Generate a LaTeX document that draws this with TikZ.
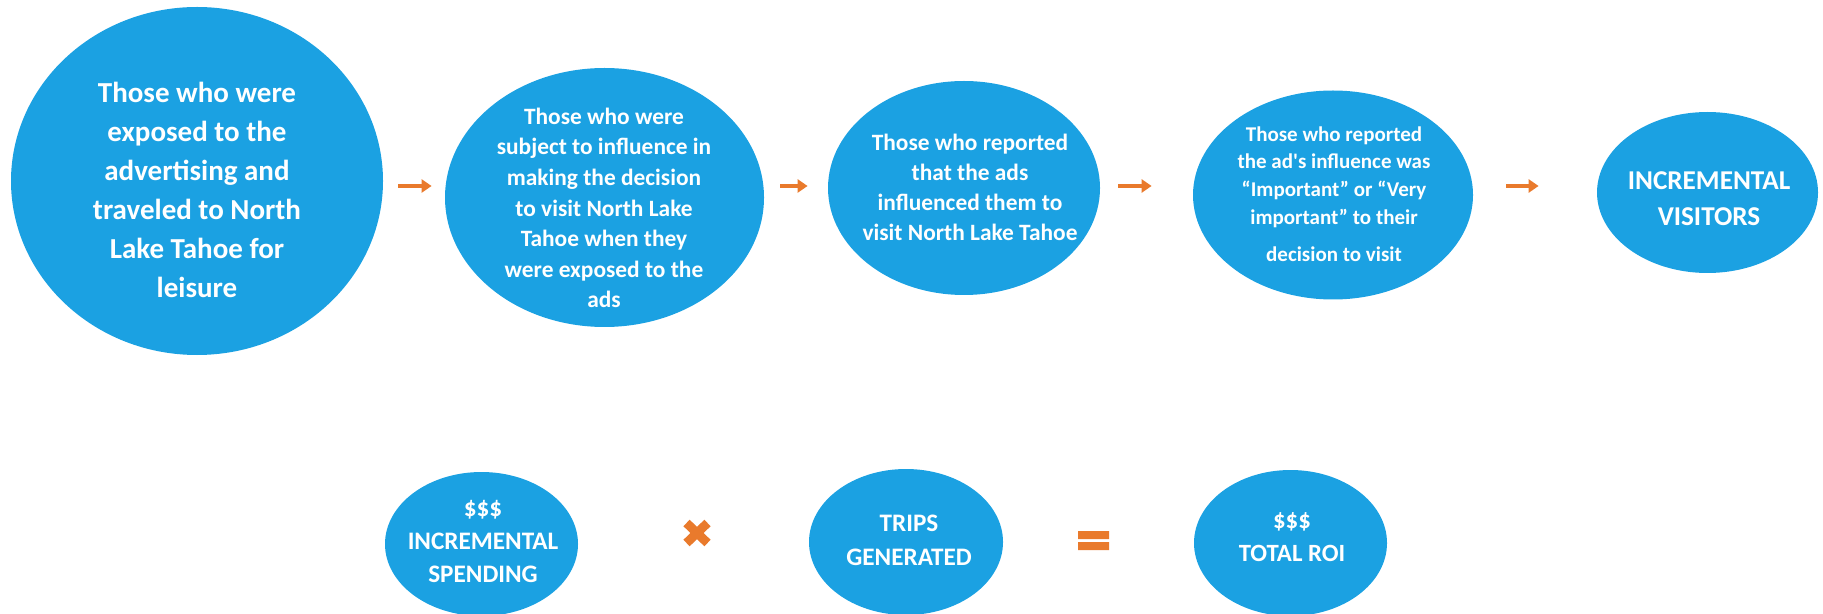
\documentclass[tikz,border=0pt]{standalone}
\usepackage{fontspec}
\setmainfont{Carlito}
\usetikzlibrary{shapes.geometric,arrows.meta}
\definecolor{tahoeblue}{RGB}{27,161,226}
\definecolor{tahoeorange}{RGB}{233,122,44}

\begin{document}
\begin{tikzpicture}[x=0.5pt, y=-0.5pt,
    bubble/.style={ellipse, fill=tahoeblue, inner sep=0pt},
    bubbletext/.style={text=white, align=center, inner sep=0pt},
    flow/.style={-{Triangle[length=5pt, width=6.5pt]}, line width=2pt, draw=tahoeorange},
    opstroke/.style={draw=tahoeorange, line width=4.5pt}]
    \useasboundingbox (0,0) rectangle (1823,614);

    % funnel bubbles, left to right
    \node[bubble, minimum width=186pt, minimum height=174pt] (exposed) at (197,181) {};
    \node[bubble, minimum width=159.5pt, minimum height=129.5pt] (subject) at (604.5,197.5) {};
    \node[bubble, minimum width=136pt, minimum height=107pt] (reported) at (964,188) {};
    \node[bubble, minimum width=140pt, minimum height=104.5pt] (important) at (1333,195) {};
    \node[bubble, minimum width=110.5pt, minimum height=80.5pt] (visitors) at (1707.5,192.5) {};

    \node[bubbletext, font=\fontsize{14.5}{19.5}\selectfont\bfseries] (exposedtxt) at (197,190) {
        Those who were\\ exposed to the\\ advertising and\\ traveled to North\\ Lake Tahoe for\\ leisure};
    \node[bubbletext, font=\fontsize{11.7}{15.3}\selectfont\bfseries] (subjecttxt) at (604,208) {
        Those who were\\ subject to influence in\\ making the decision\\ to visit North Lake\\
        Tahoe when they\\ were exposed to the\\ ads};
    \node[bubbletext, font=\fontsize{11.7}{15}\selectfont\bfseries] (reportedtxt) at (970,187) {
        Those who reported\\ that the ads\\ influenced them to\\ visit North Lake Tahoe};
    \node[bubbletext, font=\fontsize{10.5}{13.9}\selectfont\bfseries] (importanttxt) at (1334,194) {
        Those who reported\\ the ad\textquotesingle s influence was\\ “Important” or “Very\\
        important” to their\\[4.5pt] decision to visit};
    \node[bubbletext, font=\fontsize{13.6}{18}\selectfont\bfseries] (visitorstxt) at (1709,199) {
        INCREMENTAL\\ VISITORS};

    % orange arrows between the bubbles
    \coordinate (flowrow) at (0,186);
    \foreach \a/\b/\s/\e in {exposed/subject/7.5/6.5, subject/reported/8/10,
        reported/important/9/20.5, important/visitors/16.5/29}
        \draw[flow, shorten <=\s pt, shorten >=\e pt] (\a.east |- flowrow) -- (\b.west |- flowrow);

    % ROI equation
    \node[bubble, minimum width=96.5pt, minimum height=72pt] (spending) at (481.5,544) {};
    \node[bubble, minimum width=97pt, minimum height=73pt] (trips) at (906,542) {};
    \node[bubble, minimum width=96.5pt, minimum height=73pt] (roi) at (1290.5,543) {};

    \node[bubbletext, font=\fontsize{12.6}{16.5}\selectfont\bfseries] (spendingtxt) at (483,541) {
        \$\$\$\\ INCREMENTAL\\ SPENDING};
    \node[bubbletext, font=\fontsize{12.6}{17}\selectfont\bfseries] (tripstxt) at (909,540) {
        TRIPS\\ GENERATED};
    \node[bubbletext, font=\fontsize{12.4}{16.5}\selectfont\bfseries] (roitxt) at (1292,537) {
        \$\$\$\\ TOTAL ROI};

    \coordinate (times) at (697,533);
    \draw[opstroke, shift={(times)}] (-10.5,-10) -- (10.5,10) (-10.5,10) -- (10.5,-10);
    \coordinate (equals) at (1093.5,540.5);
    \fill[tahoeorange, shift={(equals)}] (-15.5,-9.5) rectangle (15.5,-1.5)
        (-15.5,1.5) rectangle (15.5,9.5);
\end{tikzpicture}
\end{document}
